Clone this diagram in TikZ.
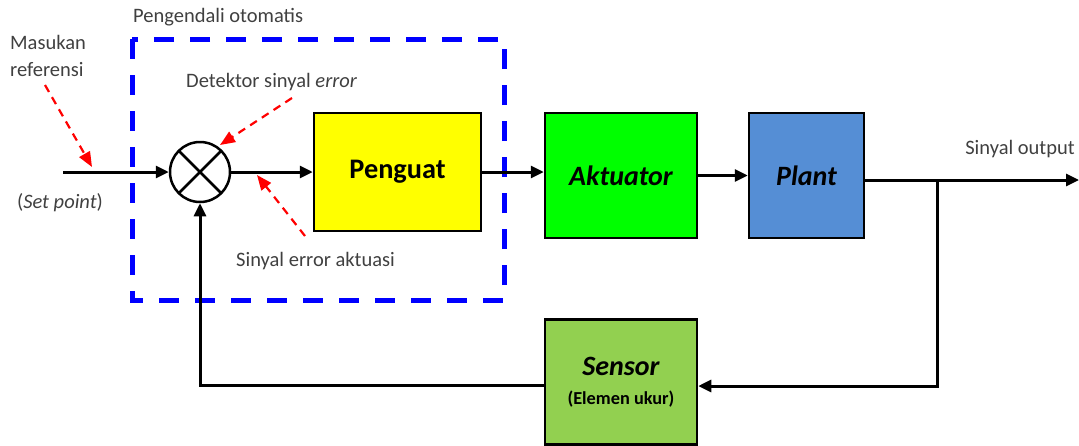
\documentclass[tikz,border=0pt]{standalone}
\usepackage{fontspec}
\setmainfont{Carlito}
\usetikzlibrary{arrows.meta,calc}
\definecolor{ygold}{HTML}{FFFF00}
\definecolor{agreen}{HTML}{00FF00}
\definecolor{pblue}{HTML}{558ED5}
\definecolor{sgreen}{HTML}{92D050}
\definecolor{txtgray}{HTML}{404040}
\begin{document}
\begin{tikzpicture}[x=1pt,y=-1pt,
  blockbox/.style={draw=black,line width=2.5pt,rectangle,inner sep=0pt,
    font=\fontsize{28}{32}\selectfont\bfseries\itshape},
  sig/.style={draw=black,line width=3pt,-{Triangle[length=13pt,width=12pt]}},
  note/.style={font=\fontsize{20.5}{27}\selectfont,text=txtgray,inner sep=0pt},
  pointer/.style={draw=red,line width=2.2pt,dash pattern=on 8pt off 6pt,
    -{Triangle[length=15pt,width=12pt]}},
  ctrlframe/.style={draw=blue,line width=5pt,dash pattern=on 20pt off 16pt}]

\useasboundingbox (0,0) rectangle (1079,445);

% controller frame
\draw[ctrlframe] (132,39) rectangle (504,300);

% blocks
\node[circle,draw=black,line width=2.5pt,fill=white,minimum size=60pt,inner sep=0pt] (sum) at (200,172) {};
\draw[line width=2.5pt,shorten <=2pt,shorten >=2pt] (sum.45) -- (sum.225);
\draw[line width=2.5pt,shorten <=2pt,shorten >=2pt] (sum.135) -- (sum.315);
\node[blockbox,fill=ygold,minimum width=167pt,minimum height=118pt,
  font=\fontsize{28.3}{32}\selectfont\bfseries] (peng) at (397.5,172) {Penguat};
\node[blockbox,fill=agreen,minimum width=152pt,minimum height=125pt] (akt) at (621,175.5) {Aktuator};
\node[blockbox,fill=pblue,minimum width=115pt,minimum height=125pt] (plant) at (806.5,175.5) {Plant};
\node[blockbox,fill=sgreen,minimum width=152pt,minimum height=125pt,align=center] (sens) at (621,382)
  {Sensor\\[-3pt]{\fontsize{18.3}{20}\selectfont\bfseries\upshape (Elemen ukur)}};

% signal path
\coordinate (in) at (63,172);
\coordinate (out) at (1079,180);
\coordinate (branch) at (937,180);
\draw[sig] (in) -- (sum.west);
\draw[sig] (sum.east) -- (sum.east -| peng.west);
\draw[sig] (peng.east |- 0,172) -- (akt.west |- 0,172);
\draw[sig] (akt.east) -- (plant.west);
\draw[sig] (plant.east |- out) -- (out);
\draw[sig] (branch) |- ([yshift=-4pt]sens.east);
\draw[sig] ([yshift=-3pt]sens.west) -| (sum.south);

% annotations
\node[note,anchor=west] (title) at (133,17) {Pengendali otomatis};
\node[note,anchor=west,align=left] (ref) at (10,56) {Masukan\\referensi};
\node[note] (sp) at (60,203) {(\textit{Set point})};
\node[note,anchor=west] (det) at (186,82) {Detektor sinyal \textit{error}};
\node[note,anchor=west] (akts) at (236,261) {Sinyal error aktuasi};
\node[note,anchor=east] (outl) at (1075,149) {Sinyal output};

% pointers
\coordinate (p1s) at (45,85);   \coordinate (p1e) at (92,167);
\coordinate (p2s) at (292,98);  \coordinate (p2e) at (220,145);
\coordinate (p3s) at (305,236); \coordinate (p3e) at (257,175);
\draw[pointer] (p1s) -- (p1e);
\draw[pointer] (p2s) -- (p2e);
\draw[pointer] (p3s) -- (p3e);
\end{tikzpicture}
\end{document}
